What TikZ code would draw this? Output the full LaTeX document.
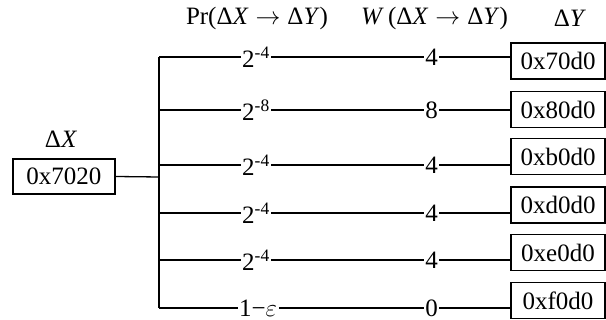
\documentclass[tikz,border=0pt]{standalone}
\usepackage{fontspec}
\setmainfont{Liberation Serif}
\newcommand\fsz{\fontsize{25}{30}\selectfont}
\newcommand\arr{\;$\rightarrow$\;}
\tikzset{
  dbox/.style={draw, line width=1.5pt, minimum width=94pt, minimum height=36pt, inner sep=0pt, font=\fsz},
  conn/.style={line width=1.3pt},
  lbl/.style={fill=white, inner sep=1.5pt, font=\fsz},
  hdr/.style={font=\fsz, inner sep=0pt}
}
\begin{document}
\begin{tikzpicture}[x=1pt,y=-1pt]
\useasboundingbox (0,0) rectangle (606,320);
% headers
\node[hdr] (hpr) at (257,18) {Pr(Δ\textit{X}\arr Δ\textit{Y})};
\node[hdr] (hw) at (434.5,18) {\textit{W}\,(Δ\textit{X}\arr Δ\textit{Y})};
\node[hdr] (hy) at (570,18) {Δ\textit{Y}};
\node[hdr] (hx) at (61,139) {Δ\textit{X}};
% input box
\node[dbox, minimum width=102pt, minimum height=35pt] (x) at (64,176.5) {0x7020};
% output boxes
\node[dbox] (y1) at (558,61) {0x70d0};
\node[dbox] (y2) at (558,109.5) {0x80d0};
\node[dbox] (y3) at (558,156.5) {0xb0d0};
\node[dbox] (y4) at (558,205) {0xd0d0};
\node[dbox] (y5) at (558,252.5) {0xe0d0};
\node[dbox] (y6) at (558,300.5) {0xf0d0};
% junctions
\coordinate (jx) at (159,177);
\coordinate (j1) at (159,57);  \coordinate (m1) at (353,57);
\coordinate (j2) at (159,110); \coordinate (m2) at (353,110);
\coordinate (j3) at (159,165); \coordinate (m3) at (353,165);
\coordinate (j4) at (159,213); \coordinate (m4) at (353,213);
\coordinate (j5) at (159,260); \coordinate (m5) at (353,260);
\coordinate (j6) at (159,308); \coordinate (m6) at (353,308);
% connectors
\draw[conn] (x.east) -- (jx);
\draw[conn] (j1) -- (j6);
\draw[conn] (j1) -- node[lbl]{2\textsuperscript{-4}} (m1) -- node[lbl]{4} (m1 -| y1.west);
\draw[conn] (j2) -- node[lbl]{2\textsuperscript{-8}} (m2) -- node[lbl]{8} (m2 -| y2.west);
\draw[conn] (j3) -- node[lbl]{2\textsuperscript{-4}} (m3) -- node[lbl]{4} (m3 -| y3.west);
\draw[conn] (j4) -- node[lbl]{2\textsuperscript{-4}} (m4) -- node[lbl]{4} (m4 -| y4.west);
\draw[conn] (j5) -- node[lbl]{2\textsuperscript{-4}} (m5) -- node[lbl]{4} (m5 -| y5.west);
\draw[conn] (j6) -- node[lbl, xshift=2pt, inner ysep=0pt]{1−$\varepsilon$} (m6) -- node[lbl, inner ysep=0pt]{0} (m6 -| y6.west);
\end{tikzpicture}
\end{document}
